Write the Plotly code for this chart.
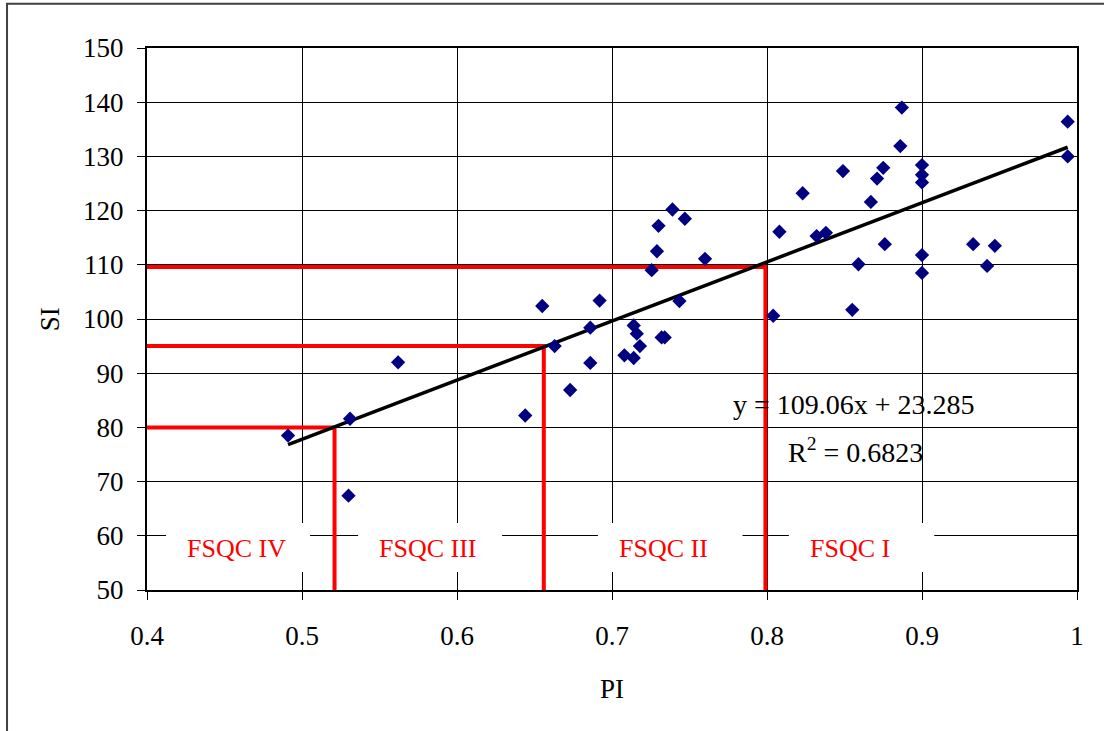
import plotly.graph_objects as go

# Measured pairs: performance index (PI) vs. site index (SI)
pi = [0.491, 0.531, 0.530, 0.562, 0.644, 0.655, 0.663, 0.673, 0.686, 0.686,
      0.692, 0.708, 0.714, 0.714, 0.716, 0.718, 0.7256, 0.729, 0.730, 0.732,
      0.734, 0.739, 0.7435, 0.747, 0.760, 0.804, 0.808, 0.823, 0.832, 0.838,
      0.849, 0.855, 0.859, 0.867, 0.871, 0.875, 0.876, 0.886, 0.887, 0.900,
      0.900, 0.900, 0.900, 0.900, 0.933, 0.942, 0.947, 0.994, 0.994]
si = [78.5, 81.6, 67.4, 92.0, 82.2, 102.4, 95.0, 86.9, 98.4, 91.9,
      103.4, 93.3, 92.8, 98.8, 97.3, 95.0, 109.0, 112.5, 117.2, 96.6,
      96.6, 120.2, 103.3, 118.5, 111.1, 100.6, 116.1, 123.2, 115.3, 115.9,
      127.3, 101.7, 110.1, 121.6, 125.9, 127.9, 113.8, 131.9, 139.0, 128.4,
      126.6, 125.2, 111.8, 108.5, 113.8, 109.8, 113.5, 136.4, 130.0]

# Linear fit reported on the chart
slope = 109.06
intercept = 23.285
r2 = 0.6823

# Class boundaries (SI level and corresponding PI)
class_si = [80, 95, 109.6]
class_pi = [0.521, 0.656, 0.799]
class_names = ["FSQC IV", "FSQC III", "FSQC II", "FSQC I"]

x_ticks = [0.4, 0.5, 0.6, 0.7, 0.8, 0.9, 1.0]
x_tick_labels = ["0.4", "0.5", "0.6", "0.7", "0.8", "0.9", "1"]
y_ticks = [50, 60, 70, 80, 90, 100, 110, 120, 130, 140, 150]

FONT = "Liberation Serif, Times New Roman, serif"
XMIN, YMIN = 0.4, 50

fig = go.Figure()

# Red class-boundary lines
for xc, yc in zip(class_pi, class_si):
    fig.add_trace(go.Scatter(
        x=[XMIN, xc, xc], y=[yc, yc, YMIN], mode="lines",
        line=dict(color="#ff0000", width=4), hoverinfo="skip", showlegend=False))

# Trend line over the observed PI range
x_fit = [min(pi), max(pi)]
y_fit = [slope * v + intercept for v in x_fit]
fig.add_trace(go.Scatter(
    x=x_fit, y=y_fit, mode="lines",
    line=dict(color="#000000", width=3.5), showlegend=False))

# Observations
fig.add_trace(go.Scatter(
    x=pi, y=si, mode="markers",
    marker=dict(symbol="diamond", size=11, color="#000080",
                line=dict(width=0)),
    showlegend=False))

# White label boxes for the quality classes
box_left = [0.4123, 0.5362, 0.6909, 0.8141]
box_right = [0.5052, 0.6291, 0.7842, 0.9079]
shapes = []
annotations = []
for name, x0, x1 in zip(class_names, box_left, box_right):
    shapes.append(dict(type="rect", xref="x", yref="y", x0=x0, x1=x1,
                       y0=53.32, y1=62.37, fillcolor="white",
                       line=dict(width=0), layer="between"))
    annotations.append(dict(x=x0, y=57.6, xref="x", yref="y", text=name,
                            xanchor="left", yanchor="middle", xshift=19,
                            showarrow=False,
                            font=dict(family=FONT, size=26, color="#ff0000")))

# Chart-area frame
shapes.append(dict(type="rect", xref="paper", yref="paper",
                   x0=-0.1505, x1=1.05, y0=-0.3, y1=1.0815,
                   line=dict(color="#404040", width=2), layer="above"))

annotations += [
    dict(x=0.856, y=84.3, xref="x", yref="y",
         text=f"y = {slope}x + {intercept}", showarrow=False,
         font=dict(family=FONT, size=28, color="#000000")),
    dict(x=0.857, y=75.7, xref="x", yref="y",
         text=f"R<sup>2</sup> = {r2}", showarrow=False,
         font=dict(family=FONT, size=28, color="#000000")),
    dict(x=0.5, y=-0.182, xref="paper", yref="paper", text="PI",
         xanchor="center", yanchor="middle",
         showarrow=False, font=dict(family=FONT, size=27, color="#000000")),
    dict(x=-0.104, y=0.5, xref="paper", yref="paper", text="SI",
         xanchor="center", yanchor="middle",
         textangle=-90, showarrow=False,
         font=dict(family=FONT, size=27, color="#000000")),
]

axis_common = dict(
    showgrid=True, gridcolor="#000000", gridwidth=1,
    showline=True, linecolor="#000000", linewidth=2, mirror=True,
    ticks="outside", ticklen=8, tickcolor="#000000", tickwidth=1,
    zeroline=False,
    tickfont=dict(family=FONT, size=27, color="#000000"),
)

fig.update_layout(
    width=1104, height=731,
    margin=dict(l=147, r=27, t=48, b=141),
    paper_bgcolor="white", plot_bgcolor="white",
    xaxis=dict(range=[0.4, 1.0], tickvals=x_ticks, ticktext=x_tick_labels,
               ticklabelstandoff=13, **axis_common),
    yaxis=dict(range=[50, 150], tickvals=y_ticks,
               ticklabelstandoff=8, **axis_common),
    shapes=shapes, annotations=annotations,
)

fig.write_html("out.html")
